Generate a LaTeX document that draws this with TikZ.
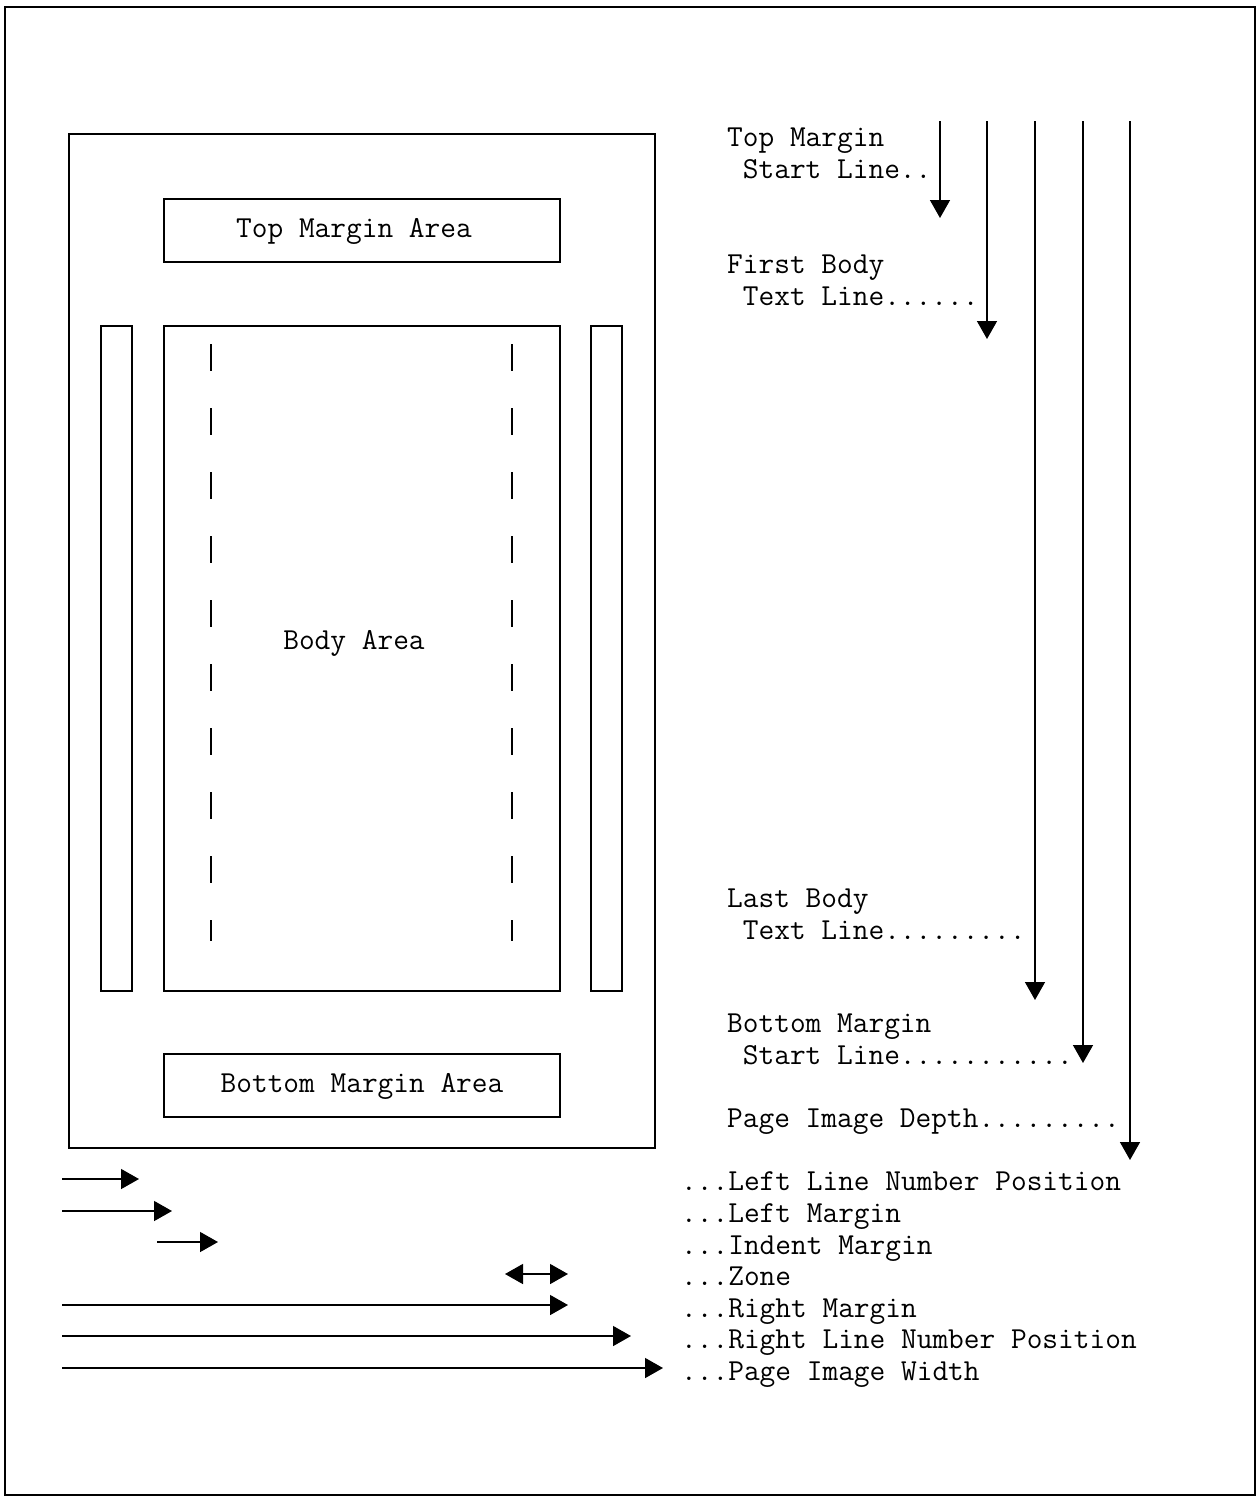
\documentclass[tikz,border=0pt]{standalone}
\usetikzlibrary{arrows.meta}
\begin{document}
\begin{tikzpicture}[x=1pt,y=-1pt,
  every node/.style={font=\fontsize{30.5}{32}\selectfont\ttfamily, inner sep=0pt},
  lbl/.style={anchor=base west, align=left},
  arr/.style={line width=1.5pt, -{Triangle[length=18pt,width=20pt]}},
  darr/.style={line width=1.5pt, {Triangle[length=18pt,width=20pt]}-{Triangle[length=18pt,width=20pt]}},
  dsh/.style={line width=1.3pt, dash pattern=on 27pt off 37pt}]
\useasboundingbox (0,0) rectangle (1257,1500);
% outer frame
\draw[line width=1.5pt] (5,7) rectangle (1255,1495);
% page
\node[draw, line width=1.5pt, minimum width=586pt, minimum height=1014pt] (page) at (362,641) {};
\node[draw, line width=1.5pt, minimum width=396pt, minimum height=63pt] (topm) at (362,230.5) {};
\node (topl) at (354,231) {Top Margin Area};
\node[draw, line width=1.5pt, minimum width=396pt, minimum height=665pt] (body) at (362,658.5) {};
\node (bodyl) at (354,643) {Body Area};
\node[draw, line width=1.5pt, minimum width=31pt, minimum height=665pt] (lln) at (116.5,658.5) {};
\node[draw, line width=1.5pt, minimum width=31pt, minimum height=665pt] (rln) at (606.5,658.5) {};
\node[draw, line width=1.5pt, minimum width=396pt, minimum height=63pt] (botm) at (362,1085.5) {};
\node (botl) at (362,1086) {Bottom Margin Area};
% zone dashed lines
\coordinate (z1a) at (211,344); \coordinate (z1b) at (211,941);
\coordinate (z2a) at (512,344); \coordinate (z2b) at (512,941);
\draw[dsh] (z1a) -- (z1b);
\draw[dsh] (z2a) -- (z2b);
% right labels (base = baseline of last line)
\node[lbl] (l1) at (727,178) {Top Margin\\~Start Line..};
\node[lbl] (l2) at (727,305) {First Body\\~Text Line......};
\node[lbl] (l3) at (727,939) {Last Body\\~Text Line.........};
\node[lbl] (l4) at (727,1064) {Bottom Margin\\~Start Line...........};
\node[lbl] (l5) at (727,1127) {Page Image Depth.........};
% vertical arrows
\coordinate (v1a) at (940,121); \coordinate (v1b) at (940,218);
\coordinate (v2a) at (987,121); \coordinate (v2b) at (987,339);
\coordinate (v3a) at (1035,121); \coordinate (v3b) at (1035,1000);
\coordinate (v4a) at (1083,121); \coordinate (v4b) at (1083,1063);
\coordinate (v5a) at (1130,121); \coordinate (v5b) at (1130,1160);
\draw[arr] (v1a) -- (v1b);
\draw[arr] (v2a) -- (v2b);
\draw[arr] (v3a) -- (v3b);
\draw[arr] (v4a) -- (v4b);
\draw[arr] (v5a) -- (v5b);
% bottom labels
\node[lbl] (b1) at (681,1190) {...Left Line Number Position};
\node[lbl] (b2) at (681,1222) {...Left Margin};
\node[lbl] (b3) at (681,1254) {...Indent Margin};
\node[lbl] (b4) at (681,1285) {...Zone};
\node[lbl] (b5) at (681,1317) {...Right Margin};
\node[lbl] (b6) at (681,1348) {...Right Line Number Position};
\node[lbl] (b7) at (681,1380) {...Page Image Width};
% horizontal arrows
\coordinate (h1a) at (62,1179); \coordinate (h1b) at (139,1179);
\coordinate (h2a) at (62,1211); \coordinate (h2b) at (172,1211);
\coordinate (h3a) at (157,1242); \coordinate (h3b) at (218,1242);
\coordinate (h4a) at (505,1274); \coordinate (h4b) at (568,1274);
\coordinate (h5a) at (62,1305); \coordinate (h5b) at (568,1305);
\coordinate (h6a) at (62,1336); \coordinate (h6b) at (631,1336);
\coordinate (h7a) at (62,1368); \coordinate (h7b) at (663,1368);
\draw[arr] (h1a) -- (h1b);
\draw[arr] (h2a) -- (h2b);
\draw[arr] (h3a) -- (h3b);
\draw[darr] (h4a) -- (h4b);
\draw[arr] (h5a) -- (h5b);
\draw[arr] (h6a) -- (h6b);
\draw[arr] (h7a) -- (h7b);
\end{tikzpicture}
\end{document}
